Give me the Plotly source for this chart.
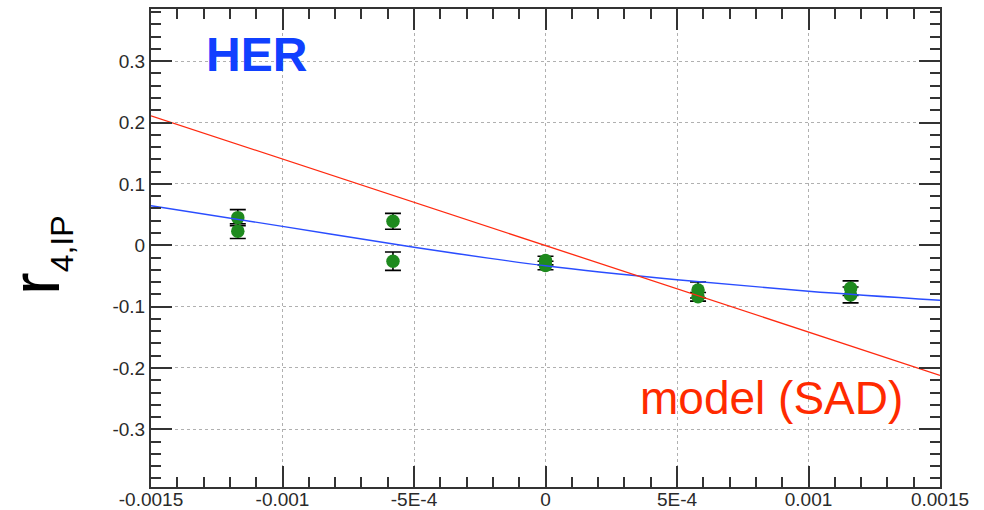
import plotly.graph_objects as go

# data points (two measurements per dispersion setting)
x_pts = [-0.00117, -0.00117, -0.00058, -0.00058, 0.0, 0.0, 0.00058, 0.00058, 0.00116, 0.00116]
y_pts = [0.045, 0.023, 0.039, -0.026, -0.025, -0.033, -0.073, -0.084, -0.070, -0.081]
y_err = [0.013, 0.012, 0.013, 0.015, 0.007, 0.007, 0.013, 0.007, 0.012, 0.013]

# fit curve (blue)
fit_x = [-0.0015, -0.001, -0.0005, 0.0, 0.0005, 0.001, 0.0015]
fit_y = [0.0644, 0.0308, -0.0033, -0.0335, -0.0563, -0.0750, -0.0897]

# model (SAD) line (red)
model_x = [-0.0015, 0.0015]
model_y = [0.211, -0.212]

x_tickvals = [-0.0015, -0.001, -0.0005, 0.0, 0.0005, 0.001, 0.0015]
x_ticktext = ["-0.0015", "-0.001", "-5E-4", "0", "5E-4", "0.001", "0.0015"]
y_tickvals = [-0.3, -0.2, -0.1, 0.0, 0.1, 0.2, 0.3]
y_ticktext = ["-0.3", "-0.2", "-0.1", "0", "0.1", "0.2", "0.3"]

FONT = "Liberation Sans, Arial, sans-serif"

fig = go.Figure()
fig.add_trace(go.Scatter(
    x=x_pts, y=y_pts, mode="markers",
    marker=dict(size=13.5, color="#1e8a1e"),
    error_y=dict(type="data", array=y_err, color="black", thickness=1.6, width=8),
    showlegend=False,
))
fig.add_trace(go.Scatter(
    x=fit_x, y=fit_y, mode="lines", line=dict(color="#2a4dff", width=1.4, shape="spline"),
    showlegend=False,
))
fig.add_trace(go.Scatter(
    x=model_x, y=model_y, mode="lines", line=dict(color="#ff2a10", width=1.3),
    showlegend=False,
))

axis_common = dict(
    showline=True, linecolor="#333", linewidth=2, mirror="ticks",
    ticks="inside", ticklen=21, tickwidth=1.5, tickcolor="#333",
    showgrid=True, gridcolor="#b0b0b0", griddash="dot", gridwidth=1,
    zeroline=False, automargin=False,
    tickfont=dict(family=FONT, size=19, color="#2a2a2a"),
)

fig.update_xaxes(
    range=[-0.0015, 0.0015], tickmode="array", tickvals=x_tickvals, ticktext=x_ticktext,
    ticklabelstandoff=-6,
    minor=dict(ticks="inside", ticklen=10, dtick=0.0001, tick0=0, tickcolor="#333", tickwidth=1.5, showgrid=False),
    **axis_common,
)
fig.update_yaxes(
    range=[-0.394, 0.385], tickmode="array", tickvals=y_tickvals, ticktext=y_ticktext,
    minor=dict(ticks="inside", ticklen=10, dtick=0.02, tick0=0, tickcolor="#333", tickwidth=1.5, showgrid=False),
    **axis_common,
)

fig.add_annotation(
    text="<b>HER</b>", xref="paper", yref="paper",
    x=(256 - 151) / 789, y=(487 - 54) / 478, xanchor="center", yanchor="middle",
    showarrow=False, font=dict(family=FONT, size=48, color="#1040ff"),
)
fig.add_annotation(
    text="model (SAD)", xref="paper", yref="paper",
    x=(771 - 151) / 789, y=(487 - 398) / 478, xanchor="center", yanchor="middle",
    showarrow=False, font=dict(family=FONT, size=46, color="#ff2a00"),
)
fig.add_annotation(
    text="r<sub><span style='font-size:32px'>4,IP</span></sub>", xref="paper", yref="paper",
    x=(38 - 151) / 789, y=(487 - 255) / 478, xanchor="center", yanchor="middle",
    textangle=-90, showarrow=False, font=dict(family=FONT, size=68, color="black"),
)

fig.update_layout(
    width=984, height=510,
    margin=dict(l=151, r=44, t=9, b=23, autoexpand=False),
    paper_bgcolor="white", plot_bgcolor="white",
    font=dict(family=FONT),
)

fig.write_html("out.html")
